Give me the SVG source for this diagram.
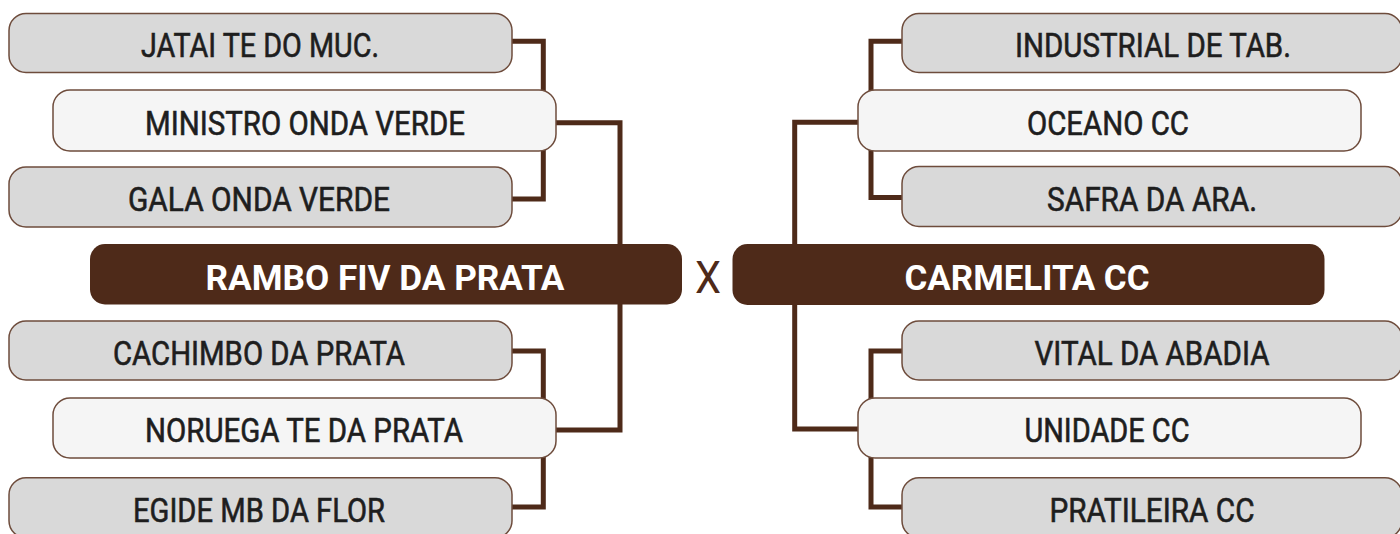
<svg xmlns="http://www.w3.org/2000/svg" width="1400" height="534" viewBox="0 0 1400 534">
  <style>
    .g { fill: #d9d9d9; stroke: #6e4c3c; stroke-width: 1.5; }
    .l { fill: #f5f5f5; stroke: #6e4c3c; stroke-width: 1.5; }
    .m { fill: #4e2a19; }
    .t { font-family: Roboto, "Liberation Sans", sans-serif; font-size: 32.5px; fill: #1e1e1e; stroke: #1e1e1e; stroke-width: 0.6px; text-anchor: middle; }
    .mt { font-family: Roboto, "Liberation Sans", sans-serif; font-size: 35px; font-weight: bold; fill: #ffffff; text-anchor: middle; }
    .x { font-family: Roboto, "Liberation Sans", sans-serif; font-size: 45px; fill: #4e2a19; text-anchor: middle; }
    .c { fill: none; stroke: #4e2a19; stroke-width: 5; stroke-linejoin: miter; }
  </style>
  <rect width="1400" height="534" fill="#ffffff"/>
  <g id="connectors">
    <path class="c" d="M512,41.3 H543.3 V91"/>
    <path class="c" d="M512,199 H543.3 V150"/>
    <path class="c" d="M556,122.7 H620 V245"/>
    <path class="c" d="M620,304 V430 H556"/>
    <path class="c" d="M512,351 H543.3 V399"/>
    <path class="c" d="M512,507 H543.3 V457"/>
    <path class="c" d="M902,41.3 H871 V91"/>
    <path class="c" d="M902,197.5 H871 V150"/>
    <path class="c" d="M858,122.3 H794.7 V245"/>
    <path class="c" d="M794.7,304 V429 H858"/>
    <path class="c" d="M902,351 H871 V399"/>
    <path class="c" d="M902,507 H871 V457"/>
  </g>
  <g id="jatai">
    <rect class="g" x="9" y="13.5" width="503" height="59" rx="17"/>
    <text class="t" x="260" y="57.3" textLength="238" lengthAdjust="spacingAndGlyphs">JATAI TE DO MUC.</text>
  </g>
  <g id="ministro">
    <rect class="l" x="53" y="90" width="503" height="61" rx="17"/>
    <text class="t" x="305" y="134.5" textLength="320" lengthAdjust="spacingAndGlyphs">MINISTRO ONDA VERDE</text>
  </g>
  <g id="gala">
    <rect class="g" x="9" y="167" width="503" height="60" rx="17"/>
    <text class="t" x="259" y="211" textLength="262" lengthAdjust="spacingAndGlyphs">GALA ONDA VERDE</text>
  </g>
  <g id="rambo">
    <rect class="m" x="90" y="244" width="592" height="60.5" rx="15"/>
    <text class="mt" x="385" y="290" textLength="359" lengthAdjust="spacingAndGlyphs">RAMBO FIV DA PRATA</text>
  </g>
  <g id="versus">
    <text class="x" x="708" y="292.7" textLength="26" lengthAdjust="spacingAndGlyphs">X</text>
  </g>
  <g id="cachimbo">
    <rect class="g" x="9" y="321" width="503" height="59" rx="17"/>
    <text class="t" x="259" y="365" textLength="292" lengthAdjust="spacingAndGlyphs">CACHIMBO DA PRATA</text>
  </g>
  <g id="noruega">
    <rect class="l" x="53" y="398" width="503" height="60" rx="17"/>
    <text class="t" x="304" y="442" textLength="318" lengthAdjust="spacingAndGlyphs">NORUEGA TE DA PRATA</text>
  </g>
  <g id="egide">
    <rect class="g" x="9" y="477.7" width="503" height="60" rx="17"/>
    <text class="t" x="259" y="521.5" textLength="252" lengthAdjust="spacingAndGlyphs">EGIDE MB DA FLOR</text>
  </g>
  <g id="industrial">
    <rect class="g" x="902" y="13.5" width="500" height="59" rx="17"/>
    <text class="t" x="1153" y="57.3" textLength="276" lengthAdjust="spacingAndGlyphs">INDUSTRIAL DE TAB.</text>
  </g>
  <g id="oceano">
    <rect class="l" x="858" y="90" width="503" height="61" rx="17"/>
    <text class="t" x="1108" y="134.5" textLength="162" lengthAdjust="spacingAndGlyphs">OCEANO CC</text>
  </g>
  <g id="safra">
    <rect class="g" x="902" y="166.5" width="500" height="60" rx="17"/>
    <text class="t" x="1152" y="210.5" textLength="210" lengthAdjust="spacingAndGlyphs">SAFRA DA ARA.</text>
  </g>
  <g id="carmelita">
    <rect class="m" x="732.5" y="244" width="592" height="61" rx="15"/>
    <text class="mt" x="1027" y="290" textLength="245" lengthAdjust="spacingAndGlyphs">CARMELITA CC</text>
  </g>
  <g id="vital">
    <rect class="g" x="902" y="321" width="500" height="59" rx="17"/>
    <text class="t" x="1152" y="365" textLength="235" lengthAdjust="spacingAndGlyphs">VITAL DA ABADIA</text>
  </g>
  <g id="unidade">
    <rect class="l" x="858" y="398" width="503" height="60" rx="17"/>
    <text class="t" x="1107" y="442" textLength="165" lengthAdjust="spacingAndGlyphs">UNIDADE CC</text>
  </g>
  <g id="pratileira">
    <rect class="g" x="902" y="477.7" width="500" height="60" rx="17"/>
    <text class="t" x="1152" y="521.5" textLength="205" lengthAdjust="spacingAndGlyphs">PRATILEIRA CC</text>
  </g>
</svg>
